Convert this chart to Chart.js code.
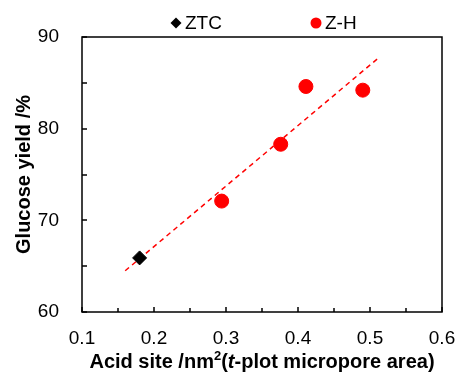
<!DOCTYPE html>
<html>
<head>
<meta charset="utf-8">
<script src="https://cdn.jsdelivr.net/npm/chart.js@4/dist/chart.umd.min.js"></script>
<style>
body { margin: 0; background: #fff; }
#wrap { position: relative; width: 458px; height: 372px; }
#xTitle {
    position: absolute; left: 62px; width: 400px; top: 350px;
    text-align: center; font: bold 20px Arial, "Liberation Sans", sans-serif;
    color: #000; line-height: 22px; white-space: nowrap;
}
#xTitle sup { font-size: 13px; line-height: 0; vertical-align: 8px; }
</style>
</head>
<body>
<div id="wrap">
    <canvas id="grafico" width="458" height="372"></canvas>
    <div id="xTitle">Acid site /nm<sup>2</sup>(<i>t</i>-plot micropore area)</div>
</div>
<script>
// Datos
const ztcX = [0.18];
const ztcY = [65.9];
const zhX = [0.294, 0.376, 0.411, 0.49];
const zhY = [72.1, 78.3, 84.6, 84.2];
const ajusteX = [0.16, 0.51];
const ajusteY = [64.5, 87.6];
const etiquetas = ['ZTC', 'Z-H'];

const aPuntos = (xs, ys) => xs.map((x, i) => ({ x: x, y: ys[i] }));

// Marco, ticks hacia dentro y leyenda propia
const marcoPlugin = {
    id: 'marco',
    afterDraw(chart) {
        const ctx = chart.ctx;
        const a = chart.chartArea;
        const sx = chart.scales.x, sy = chart.scales.y;
        ctx.save();
        ctx.strokeStyle = '#000';
        ctx.lineWidth = 1.5;
        ctx.strokeRect(a.left, a.top, a.right - a.left, a.bottom - a.top);
        ctx.beginPath();
        for (let v = 60; v <= 90; v += 5) {
            const y = Math.round(sy.getPixelForValue(v));
            ctx.moveTo(a.left, y);
            ctx.lineTo(a.left + 5, y);
        }
        for (let k = 2; k <= 12; k++) {
            const x = Math.round(sx.getPixelForValue(k * 0.05));
            ctx.moveTo(x, a.bottom);
            ctx.lineTo(x, a.bottom - (k % 2 === 0 ? 5 : 4));
        }
        ctx.stroke();

        // leyenda
        ctx.font = '19px Arial, "Liberation Sans", sans-serif';
        ctx.textBaseline = 'middle';
        ctx.fillStyle = '#000';
        ctx.beginPath();
        ctx.moveTo(176, 17.5); ctx.lineTo(181.5, 23); ctx.lineTo(176, 28.5); ctx.lineTo(170.5, 23);
        ctx.closePath();
        ctx.fill();
        ctx.fillText(etiquetas[0], 185, 24);
        ctx.fillStyle = '#ff0000';
        ctx.beginPath();
        ctx.arc(316, 23, 5.5, 0, Math.PI * 2);
        ctx.fill();
        ctx.fillStyle = '#000';
        ctx.fillText(etiquetas[1], 325, 24);
        ctx.restore();
    }
};

const ctx = document.getElementById('grafico').getContext('2d');
new Chart(ctx, {
    type: 'scatter',
    data: {
        datasets: [{
            label: etiquetas[0],
            data: aPuntos(ztcX, ztcY),
            pointStyle: 'rectRot',
            pointRadius: 7,
            backgroundColor: '#000',
            borderColor: '#000',
            order: 0
        }, {
            label: etiquetas[1],
            data: aPuntos(zhX, zhY),
            pointStyle: 'circle',
            pointRadius: 7,
            backgroundColor: '#ff0000',
            borderColor: '#ff0000',
            order: 1
        }, {
            type: 'line',
            label: 'ajuste',
            data: aPuntos(ajusteX, ajusteY),
            borderColor: '#ff0000',
            borderWidth: 1.5,
            borderDash: [5, 4],
            pointRadius: 0,
            fill: false,
            order: 2
        }]
    },
    options: {
        responsive: false,
        animation: false,
        layout: { padding: { left: 0, right: 16, top: 37, bottom: 0 } },
        plugins: { legend: { display: false }, tooltip: { enabled: false } },
        scales: {
            x: {
                type: 'linear', min: 0.1, max: 0.6,
                grid: { display: false, drawTicks: false },
                border: { display: false },
                ticks: {
                    stepSize: 0.1, padding: 15, color: '#000',
                    font: { family: 'Arial, "Liberation Sans"', size: 19 },
                    callback: v => v.toFixed(1)
                },
                afterFit: s => { s.height = 60; s.paddingLeft = 0; s.paddingRight = 0; }
            },
            y: {
                min: 60, max: 90,
                grid: { display: false, drawTicks: false },
                border: { display: false },
                ticks: {
                    stepSize: 10, padding: 23, color: '#000',
                    font: { family: 'Arial, "Liberation Sans"', size: 19 }
                },
                title: {
                    display: true, text: 'Glucose yield /%', color: '#000',
                    font: { family: 'Arial, "Liberation Sans"', size: 20, weight: 'bold' },
                    padding: { top: 12, bottom: 0 }
                },
                afterFit: s => { s.width = 82; s.paddingTop = 0; s.paddingBottom = 0; }
            }
        }
    },
    plugins: [marcoPlugin]
});
</script>
</body>
</html>
